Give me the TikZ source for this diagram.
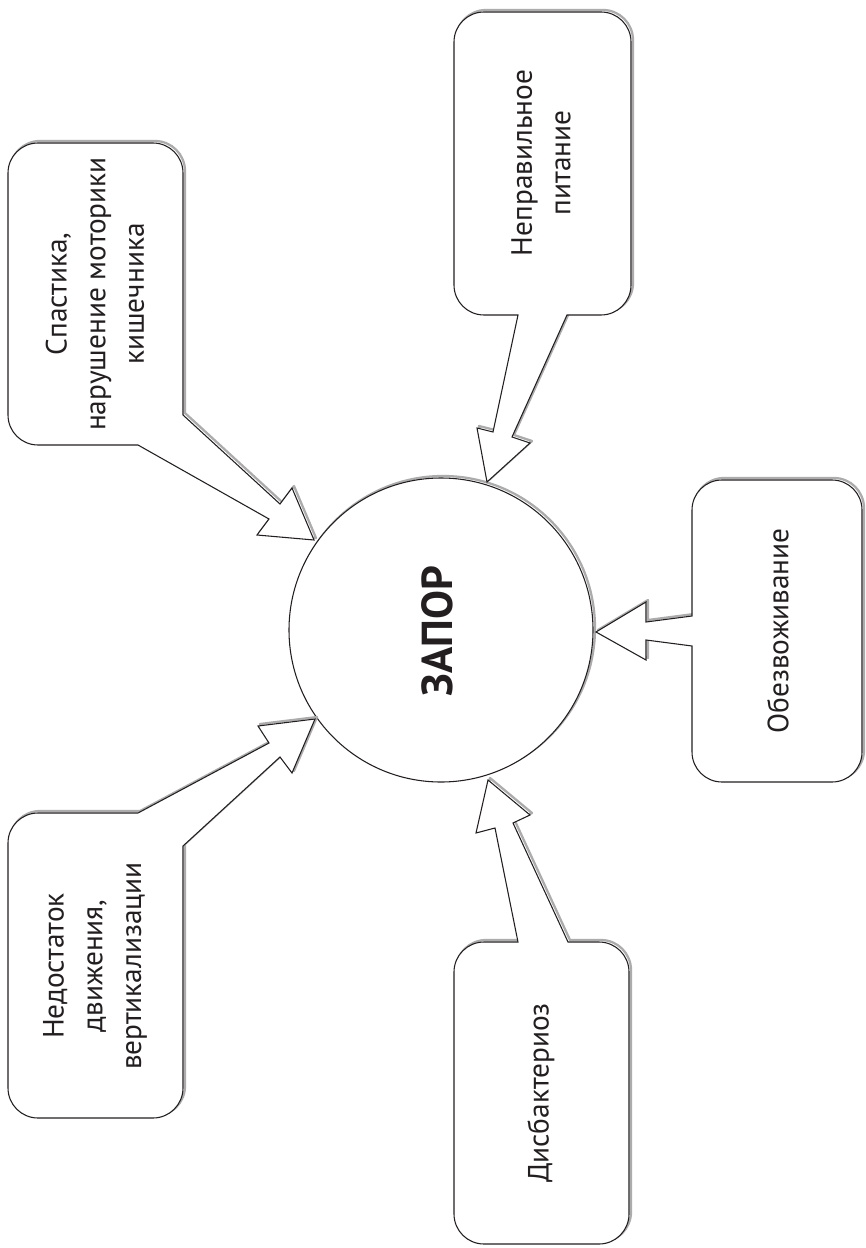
\documentclass[tikz,border=0pt]{standalone}
\usepackage{fontspec}
\setmainfont{PT Sans}
\definecolor{ink}{HTML}{231F20}
\tikzset{
  shadowline/.style={draw=gray!65, line width=1.7pt, line join=round},
  outline/.style={draw=ink, fill=white, line width=0.8pt, line join=miter},
  boxtext/.style={rotate=90, align=center, text=ink, inner sep=0pt,
    font=\fontsize{22}{29}\selectfont},
  titletext/.style={rotate=90, text=ink, inner sep=0pt,
    font=\bfseries\fontsize{32.5}{32.5}\selectfont},
}
% callout outlines in pixel coordinates (y downward)
\newcommand\calloutA{(8,173) arc[start angle=180,end angle=90,radius=22.5pt]
  -- (153,143) arc[start angle=90,end angle=0,radius=22.5pt]
  -- (183,415) -- (280,504) -- (292,488) -- (314,540) -- (257,535) -- (269,519)
  -- (138,445) -- (38,445) arc[start angle=270,end angle=180,radius=22.5pt] -- cycle}
\newcommand\calloutB{(454,42) arc[start angle=180,end angle=90,radius=22.5pt]
  -- (601,12) arc[start angle=90,end angle=0,radius=22.5pt]
  -- (631,285) arc[start angle=0,end angle=-90,radius=22.5pt]
  -- (567,315) -- (512,437) -- (530,443) -- (487,482) -- (477,428) -- (493,432)
  -- (518,315) -- (484,315) arc[start angle=270,end angle=180,radius=22.5pt] -- cycle}
\newcommand\calloutC{(692,510) arc[start angle=180,end angle=90,radius=22.5pt]
  -- (832,480) arc[start angle=90,end angle=0,radius=22.5pt]
  -- (862,752) arc[start angle=0,end angle=-90,radius=22.5pt]
  -- (722,782) arc[start angle=270,end angle=180,radius=22.5pt]
  -- (692,646) -- (646,640) -- (646,660) -- (596,632) -- (646,602) -- (646,622)
  -- (692,616) -- cycle}
\newcommand\calloutD{(8,843) arc[start angle=180,end angle=90,radius=22.5pt]
  -- (138,813) -- (269,743) -- (258,726) -- (315,719) -- (292,773) -- (280,757)
  -- (183,846) -- (183,1088) arc[start angle=0,end angle=-90,radius=22.5pt]
  -- (38,1118) arc[start angle=270,end angle=180,radius=22.5pt] -- cycle}
\newcommand\calloutE{(454,972) arc[start angle=180,end angle=90,radius=22.5pt]
  -- (518,942) -- (495,828) -- (476,833) -- (488,780) -- (530,815) -- (513,823)
  -- (568,942) -- (599,942) arc[start angle=90,end angle=0,radius=22.5pt]
  -- (629,1214) arc[start angle=0,end angle=-90,radius=22.5pt]
  -- (484,1244) arc[start angle=270,end angle=180,radius=22.5pt] -- cycle}
\begin{document}
\begin{tikzpicture}[x=0.75pt, y=-0.75pt]
\useasboundingbox (0,0) rectangle (865,1248);
\fill[white] (0,0) rectangle (865,1248);
% central circle
\draw[shadowline] (443,628) circle[radius=114pt];
\node[circle, draw=ink, fill=white, line width=0.8pt, minimum size=228pt, inner sep=0pt] (c) at (441,630) {};
\node[titletext] (ct) at (437,631) {ЗАПОР};
% callouts
\foreach \p in {\calloutA,\calloutB,\calloutC,\calloutD,\calloutE}{
  \draw[shadowline, shift={(2,-2)}] \p;
  \draw[outline] \p;
}
\node[boxtext] (t1) at (95,294) {Спастика,\\нарушение моторики\\кишечника};
\node[boxtext] (t2) at (541,163) {Неправильное\\питание};
\node[boxtext] (t3) at (778,631) {Обезвоживание};
\node[boxtext] (t4) at (95,966) {Недостаток\\движения,\\вертикализации};
\node[boxtext] (t5) at (541,1093) {Дисбактериоз};
\end{tikzpicture}
\end{document}
